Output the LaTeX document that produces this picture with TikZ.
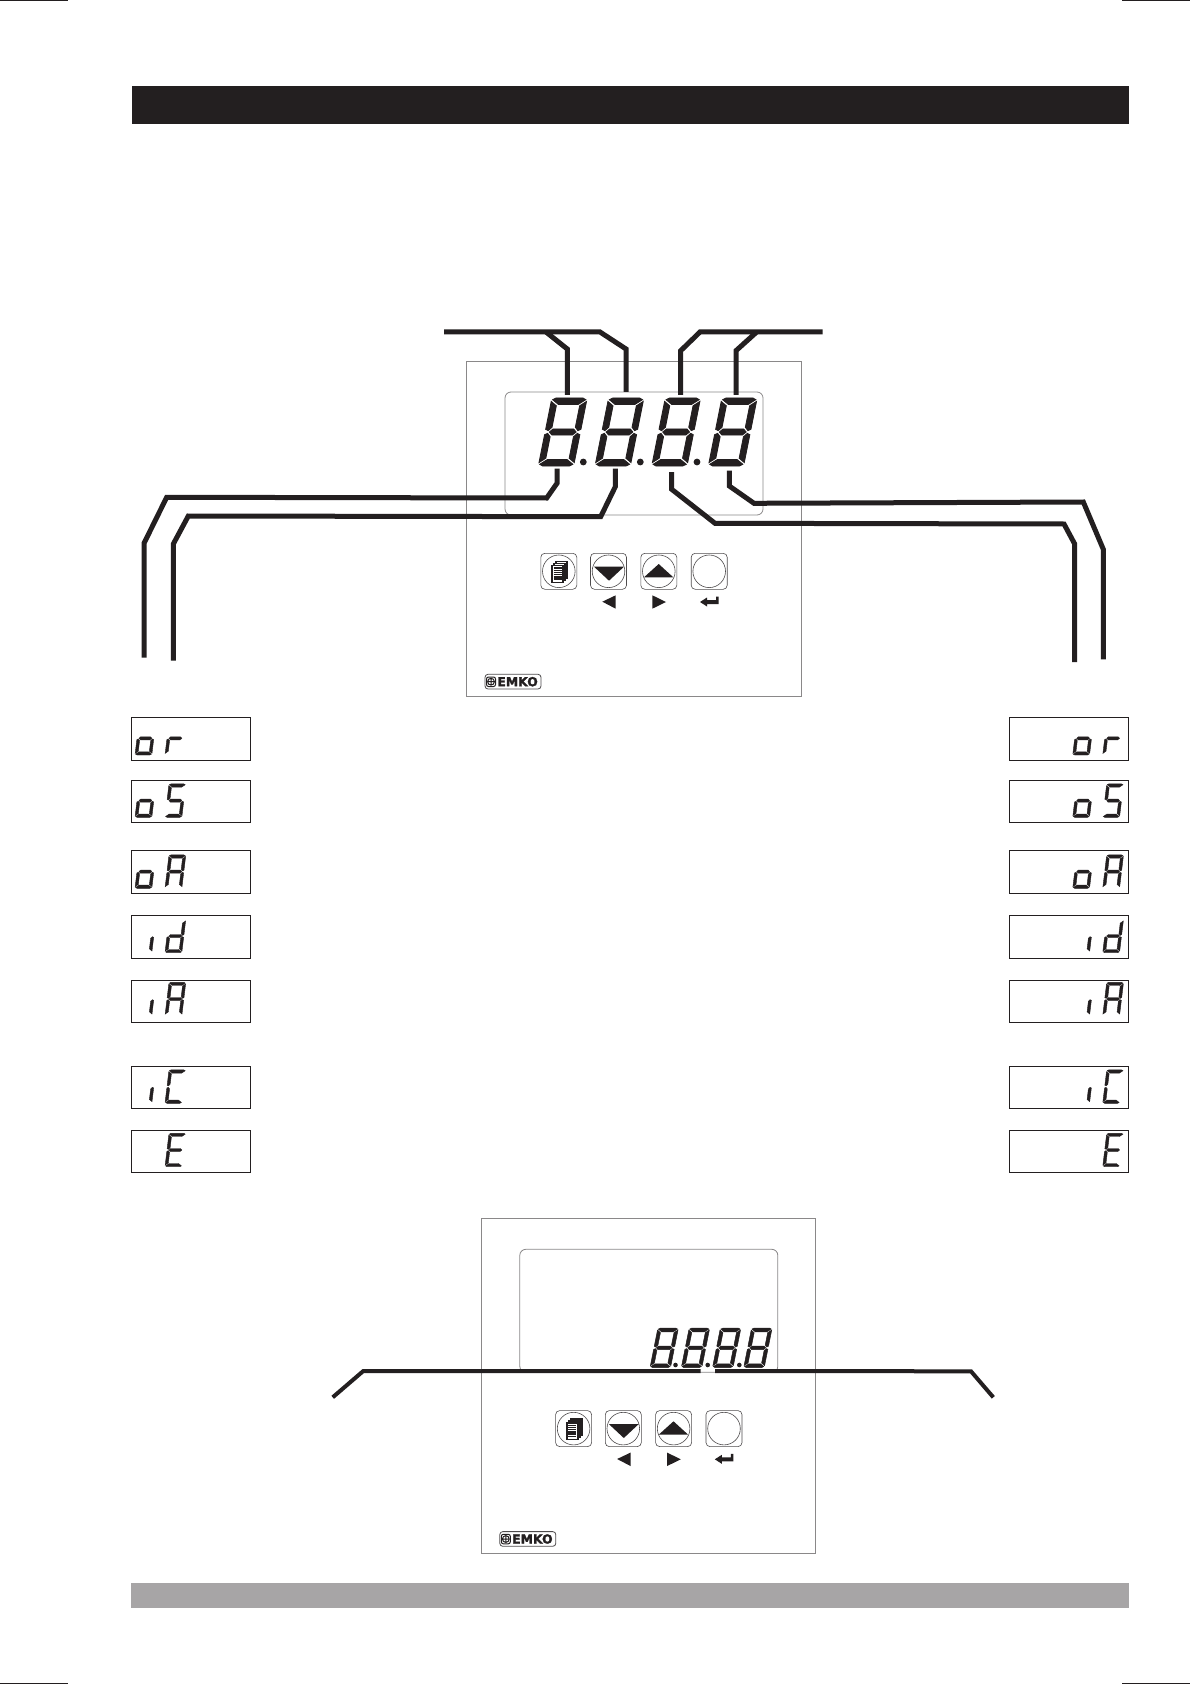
\documentclass[tikz,border=0pt]{standalone}
\usepackage{fontspec}
\usepackage{xcolor}
\usepackage{tikz}
\newfontfamily\logofont[BoldFeatures={FakeBold=2}]{DejaVu Sans}
\definecolor{inkblack}{HTML}{231F20}
\definecolor{bargray}{HTML}{A7A5A6}
\definecolor{panelgray}{HTML}{8A8889}
\tikzset{
  wire/.style={draw=inkblack, line width=2.5pt, line join=miter},
  thinwire/.style={wire, line width=2pt},
  panelline/.style={draw=panelgray, line width=0.4pt},
  keybox/.style={draw=inkblack!80, line width=0.3pt, rounded corners=2pt},
  msgbox/.style={draw=inkblack, line width=0.5pt},
  crop/.style={draw=inkblack, line width=0.6pt},
  seg/.style={fill=inkblack, draw=inkblack},
  logotext/.style={inner sep=0pt, text=inkblack, font=\logofont\bfseries\fontsize{6.2}{6.2}\selectfont}
}
% one segment each, digit is 1 wide and 2 high
\newcommand{\segA}{\path[seg] (0.12,2)--(0.88,2)--(0.97,1.95)--(0.78,1.81)--(0.22,1.81)--(0.03,1.95)--cycle;}
\newcommand{\segB}{\path[seg] (1,1.90)--(0.83,1.77)--(0.83,1.14)--(0.92,1.04)--(1,1.08)--cycle;}
\newcommand{\segC}{\path[seg] (1,0.92)--(0.92,0.96)--(0.83,0.86)--(0.83,0.23)--(1,0.10)--cycle;}
\newcommand{\segD}{\path[seg] (0.12,0)--(0.88,0)--(0.97,0.05)--(0.78,0.19)--(0.22,0.19)--(0.03,0.05)--cycle;}
\newcommand{\segE}{\path[seg] (0,0.92)--(0.08,0.96)--(0.17,0.86)--(0.17,0.23)--(0,0.10)--cycle;}
\newcommand{\segF}{\path[seg] (0,1.90)--(0.17,1.77)--(0.17,1.14)--(0.08,1.04)--(0,1.08)--cycle;}
\newcommand{\segG}{\path[seg] (0.12,1)--(0.21,1.09)--(0.79,1.09)--(0.88,1)--(0.79,0.91)--(0.21,0.91)--cycle;}
% x, y of lower left corner, half height in px, width in px, slant, segments
\newcommand{\segdigit}[6]{%
  \begin{scope}[shift={(#1,#2)}, x=#4*0.5pt, y=#3*0.5pt, xslant=#5, line width=#3*0.012pt]
    \foreach \s in #6 {\csname seg\s\endcsname}
  \end{scope}}
% front panel of the instrument, #1 #2 is the shift
\newcommand{\frontpanel}[2]{%
  \begin{scope}[shift={(#1,#2)}]
    \draw[panelline] (466.5,361) rectangle (801,696);
    \draw[panelline, rounded corners=3pt] (505,392) rectangle (763,515);
    \foreach \keyx/\keyname in {558.8/keymenu, 608.5/keydown, 658.8/keyup, 709.2/keyenter} {
      \node[keybox, minimum size=18pt, inner sep=0pt] (\keyname) at (\keyx,571.3) {};
      \draw[panelline, draw=inkblack!80, line width=0.3pt] (\keyx,571.3) circle (16.3);
    }
    \fill[inkblack] (594,566.7)--(624,566.7)--(609,580.7)--cycle;
    \fill[inkblack] (644,577.3)--(673.3,577.3)--(658.7,564)--cycle;
    \fill[inkblack] (602.3,601.7)--(615.7,595.3)--(615.7,608.7)--cycle;
    \fill[inkblack] (652.3,595.3)--(652.3,608.7)--(666,602)--cycle;
    \fill[inkblack] (700,602)--(707,597.5)--(707,600)--(716,600)--(716,596.5)--(718.5,596.5)--(718.5,604)--(707,604)--(707,606.5)--cycle;
    \foreach \pagex in {4,2,0} {
      \draw[fill=white, draw=inkblack, line width=0.7pt] (552+\pagex,565.5-\pagex) rectangle (563+\pagex,582.3-\pagex);
    }
    \foreach \liney in {568,570.2,...,581} {
      \draw[inkblack, line width=0.7pt] (553.5,\liney) -- (561.5,\liney);
    }
    \draw[keybox, rounded corners=1.5pt, line width=0.4pt] (485,674.3) rectangle (541,689);
    \draw[inkblack, line width=0.5pt, rounded corners=1pt] (486.5,677) rectangle (495.5,686.5);
    \draw[inkblack, line width=0.5pt] (491,681.7) circle (3.4) (487.6,681.7) -- (494.4,681.7) (491,678.3) -- (491,685.1);
    \node[logotext, anchor=west] (logoname) at (497,681.7) {EMKO};
  \end{scope}}
\begin{document}
\begin{tikzpicture}[x=0.5pt, y=-0.5pt]
  \useasboundingbox (0,0) rectangle (1190,1684);
  \fill[white] (0,0) rectangle (1190,1684);
  % crop marks
  \draw[crop] (0,0.5) -- (68,0.5) (1122,0.5) -- (1190,0.5);
  \draw[crop] (0,1683.5) -- (68,1683.5) (1122,1683.5) -- (1190,1683.5);
  % bars
  \fill[inkblack] (132,86) rectangle (1129,124);
  \fill[bargray] (131,1582.7) rectangle (1129,1607.7);

  \frontpanel{0}{0}
  \frontpanel{14.8}{857.3}

  % top display
  \foreach \digx in {538.3,595,651.7,708.3} {
    \segdigit{\digx}{466}{34}{35.3}{0.2}{{A,B,C,D,E,F,G}}
  }
  \foreach \dotx in {583.3,640.3,697} {
    \fill[inkblack] (\dotx,462) circle (3.4);
  }
  % bottom display
  \foreach \digx in {650,681.3,712.5,743.7} {
    \segdigit{\digx}{1367.5}{19.7}{20.5}{0.2}{{A,B,C,D,E,F,G}}
  }
  \foreach \dotx in {675.5,707.7,739.3} {
    \fill[inkblack] (\dotx,1365) circle (2.3);
  }

  % wires of the top display
  \coordinate (topL) at (444,332);
  \coordinate (topR) at (822.7,332);
  \draw[wire] (topL) -- (600,332) -- (626,349) -- (626,392);
  \draw[wire] (546,332) -- (567.3,349) -- (567.3,395);
  \draw[wire] (topR) -- (700,332) -- (680.7,350.7) -- (680.7,395);
  \draw[wire] (756.7,332) -- (736,350.7) -- (736,395);
  \draw[wire] (557,468.7) -- (557,483.3) -- (546.7,498) -- (166.7,497.3) -- (144,543.3) -- (144,657.7);
  \draw[wire] (615.3,468.7) -- (615.3,486.7) -- (600.7,516.7) -- (188.3,516) -- (173.3,544) -- (173.3,660.7);
  \draw[wire] (671.7,472) -- (671.7,489.3) -- (715,523.3) -- (1064,524) -- (1074.7,544) -- (1074.7,662);
  \draw[wire] (729.3,470.7) -- (729.3,486) -- (754,503.3) -- (1083.3,502) -- (1103.3,549.3) -- (1103.3,659.3);
  % wire of the bottom display
  \draw[thinwire] (332.7,1397.3) -- (363.3,1371) -- (700.7,1371);
  \draw[thinwire] (715,1371) -- (971,1371.3) -- (993.3,1397.3);

  % message boxes, left and right
  \foreach \boxtop/\boxbot/\boxbase/\firstseg/\secondseg in {
      717.3/760.7/755/{C,D,E,G}/{E,G},
      780.3/822.7/817.3/{C,D,E,G}/{A,F,G,C,D},
      850.3/893.3/888.3/{C,D,E,G}/{A,B,C,E,F,G},
      915.3/958.7/952.7/{C}/{B,C,D,E,G},
      980.3/1022.7/1015.7/{C}/{A,B,C,E,F,G},
      1066.3/1108.7/1103.3/{C}/{A,D,E,F},
      1130.3/1172.7/1166.7/{}/{A,D,E,F,G}} {
    \draw[msgbox] (131.5,\boxtop) rectangle (250.5,\boxbot);
    \draw[msgbox] (1009.3,\boxtop) rectangle (1128.7,\boxbot);
    \segdigit{135}{\boxbase}{16.7}{16.8}{0.12}{\firstseg}
    \segdigit{165}{\boxbase}{16.7}{16.8}{0.12}{\secondseg}
    \segdigit{1072.7}{\boxbase}{16.7}{16.8}{0.12}{\firstseg}
    \segdigit{1102.7}{\boxbase}{16.7}{16.8}{0.12}{\secondseg}
  }
\end{tikzpicture}
\end{document}
